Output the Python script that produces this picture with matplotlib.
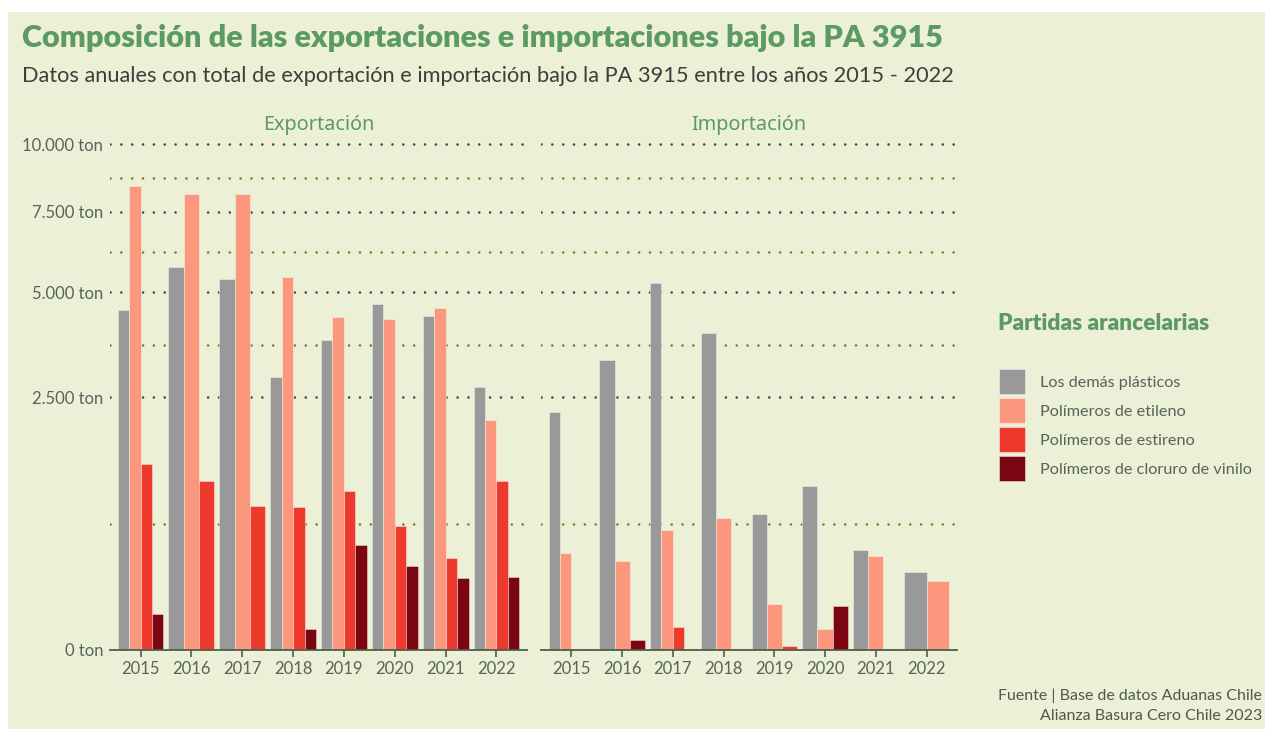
import numpy as np
import matplotlib
matplotlib.use('Agg')
import matplotlib.pyplot as plt
from matplotlib.patches import Patch, Rectangle

nan = np.nan

years = ['2015', '2016', '2017', '2018', '2019', '2020', '2021', '2022']
categorias = ['Los demás plásticos', 'Polímeros de etileno',
              'Polímeros de estireno', 'Polímeros de cloruro de vinilo']

# toneladas, NaN = categoria sin registro ese año
exp_plasticos = [4515, 5729, 5376, 2911, 3753, 4684, 4349, 2702]
exp_etileno = [8409, 8121, 8121, 5434, 4331, 4272, 4560, 2071]
exp_estireno = [1351, 1120, 807, 795, 984, 600, 333, 1111]
exp_vinilo = [51, nan, nan, 18, 428, 276, 204, 208]

imp_plasticos = [2218, 3285, 5260, 3917, 719, 1047, 393, 236]
imp_etileno = [370, 311, 560, 684, 82, 18, 347, 188]
imp_estireno = [0.05, nan, 21, nan, 0.6, nan, nan, nan]
imp_vinilo = [0.05, 4, 0.0, 0.0, nan, 76, 0.05, nan]

y_ticks = [0, 2500, 5000, 7500, 10000]
y_labels = ['0 ton', '2.500 ton', '5.000 ton', '7.500 ton', '10.000 ton']

colores = ['#999999', '#FB977C', '#EE3A2D', '#7B0511']
fondo = '#ECF0D6'
verde = '#5B9A62'
texto = '#56645A'

plt.rcParams['font.family'] = ['Lato', 'DejaVu Sans']

fig = plt.figure(figsize=(12.65, 7.29), dpi=100, facecolor='white')
W, H = 1265, 729
fig.patches.append(Rectangle((8 / W, 0), 1 - 8 / W, 1 - 12 / H,
                             transform=fig.transFigure, facecolor=fondo,
                             edgecolor='none', zorder=-10))


def px(x0, y0, x1, y1):
    return [x0 / W, 1 - y1 / H, (x1 - x0) / W, (y1 - y0) / H]


def panel(ax, series, titulo, show_y):
    ax.set_facecolor('none')
    ax.set_yscale('function', functions=(lambda v: np.sqrt(np.clip(v, 0, None)), np.square))
    ax.set_ylim(0, 10160)
    ax.set_xlim(-0.6, len(years) - 0.4)
    data = np.array(series, dtype=float)  # (cat, year)
    for j in range(len(years)):
        present = [i for i in range(len(categorias)) if not np.isnan(data[i, j])]
        n = len(present)
        w = 0.9 / n
        for k, i in enumerate(present):
            xpos = j - 0.45 + w * (k + 0.5)
            ax.bar(xpos, data[i, j], width=w, color=colores[i],
                   edgecolor=(1, 1, 1, 0.45), linewidth=0.6, zorder=3)
    # minor breaks a mitad de camino en escala raiz (como ggplot)
    r = np.sqrt(y_ticks)
    y_minor = ((r[:-1] + r[1:]) / 2) ** 2
    for v in y_ticks[1:]:
        ax.axhline(v, color='#3E4C3E', lw=1.9, ls=(0, (0.01, 4.1)),
                   dash_capstyle='round', zorder=1)
    for v in y_minor:
        ax.axhline(v, color='#7C7C22', lw=1.9, ls=(0, (0.01, 4.1)),
                   dash_capstyle='round', zorder=1)
    for s in ['top', 'right', 'left']:
        ax.spines[s].set_visible(False)
    ax.spines['bottom'].set_color('#4D5D4D')
    ax.spines['bottom'].set_linewidth(1.3)
    ax.spines['bottom'].set_zorder(4)
    ax.set_xticks(range(len(years)))
    ax.set_xticklabels(years)
    ax.tick_params(axis='x', length=5, width=1.2, color='#4D5D4D',
                   labelsize=12, labelcolor=texto, pad=3)
    ax.set_yticks(y_ticks)
    ax.minorticks_off()
    if show_y:
        ax.set_yticklabels(y_labels)
        ax.tick_params(axis='y', length=0, labelsize=12, labelcolor=texto, pad=5)
    else:
        ax.tick_params(axis='y', length=0, labelleft=False)
    ax.set_title(titulo, color=verde, fontsize=14.3, family=['Noto Sans', 'DejaVu Sans'], pad=7)


ax1 = fig.add_axes(px(110, 140, 527, 650))
ax2 = fig.add_axes(px(541, 140, 957, 650))
panel(ax1, [exp_plasticos, exp_etileno, exp_estireno, exp_vinilo], 'Exportación', True)
panel(ax2, [imp_plasticos, imp_etileno, imp_estireno, imp_vinilo], 'Importación', False)

fig.text(22 / W, 1 - 38 / H, 'Composición de las exportaciones e importaciones bajo la PA 3915',
         fontsize=22.1, fontweight='heavy', color=verde, va='center')
fig.text(22 / W, 1 - 76 / H,
         'Datos anuales con total de exportación e importación bajo la PA 3915 entre los años 2015 - 2022',
         fontsize=15.7, color='#3C3F3C', va='center')

fig.text(998 / W, 1 - 323 / H, 'Partidas arancelarias', fontsize=16.3, fontweight='heavy',
         color=verde, va='center')
handles = [Patch(facecolor=c, edgecolor=(1, 1, 1, 0.5), linewidth=0.6) for c in colores]
fig.legend(handles, categorias, loc='upper left', bbox_to_anchor=(986 / W, 1 - 356 / H),
           frameon=False, fontsize=11.7, labelcolor=texto, handlelength=1.6,
           handleheight=2.0, labelspacing=0.24, handletextpad=0.9, borderpad=0.3)

fig.text(1262 / W, 1 - 696 / H, 'Fuente | Base de datos Aduanas Chile',
         ha='right', va='center', fontsize=11.5, color='#4D5A4D')
fig.text(1262 / W, 1 - 716 / H, 'Alianza Basura Cero Chile 2023',
         ha='right', va='center', fontsize=11.5, color='#4D5A4D')

fig.savefig('out.png', dpi=100, facecolor='white')
